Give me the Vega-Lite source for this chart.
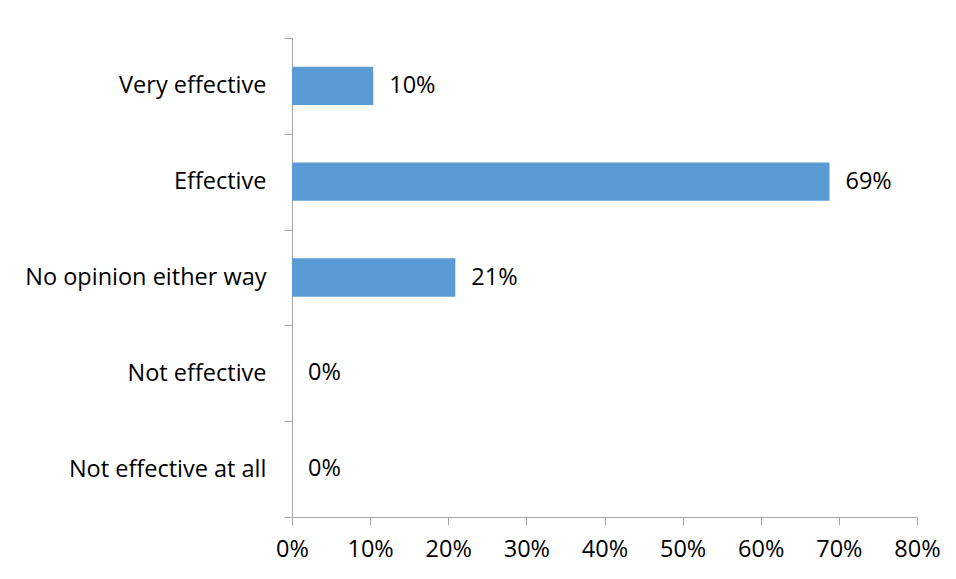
{
  "$schema": "https://vega.github.io/schema/vega-lite/v6.json",
  "width": 625,
  "height": 479,
  "autosize": "none",
  "padding": {"left": 292, "top": 38, "right": 39, "bottom": 62},
  "background": "white",
  "config": {
    "view": {"stroke": null},
    "font": "Open Sans",
    "axis": {"labelFont": "Open Sans", "labelFontSize": 23.5, "labelColor": "#000000", "domainColor": "#A6A6A6", "tickColor": "#A6A6A6", "tickSize": 8, "grid": false, "title": null}
  },
  "data": {
    "values": [
      {"category": "Very effective", "value": 0.104},
      {"category": "Effective", "value": 0.688},
      {"category": "No opinion either way", "value": 0.209},
      {"category": "Not effective ", "value": 0},
      {"category": "Not effective at all", "value": 0}
    ]
  },
  "encoding": {
    "y": {
      "field": "category",
      "type": "nominal",
      "sort": null,
      "scale": {"paddingInner": 0, "paddingOuter": 0},
      "axis": {"tickBand": "extent", "labelPadding": 18, "labelLimit": 400}
    },
    "x": {
      "field": "value",
      "type": "quantitative",
      "scale": {"domain": [0, 0.8], "nice": false},
      "axis": {"format": ".0%", "values": [0, 0.1, 0.2, 0.3, 0.4, 0.5, 0.6, 0.7, 0.8], "labelPadding": 12, "labelFlush": false}
    }
  },
  "layer": [
    {"mark": {"type": "bar", "color": "#5B9BD5", "height": {"band": 0.4}}},
    {
      "mark": {"type": "text", "align": "left", "dx": 16, "fontSize": 23.5, "color": "#000000", "font": "Open Sans"},
      "encoding": {"text": {"field": "value", "format": ".0%"}}
    }
  ]
}
